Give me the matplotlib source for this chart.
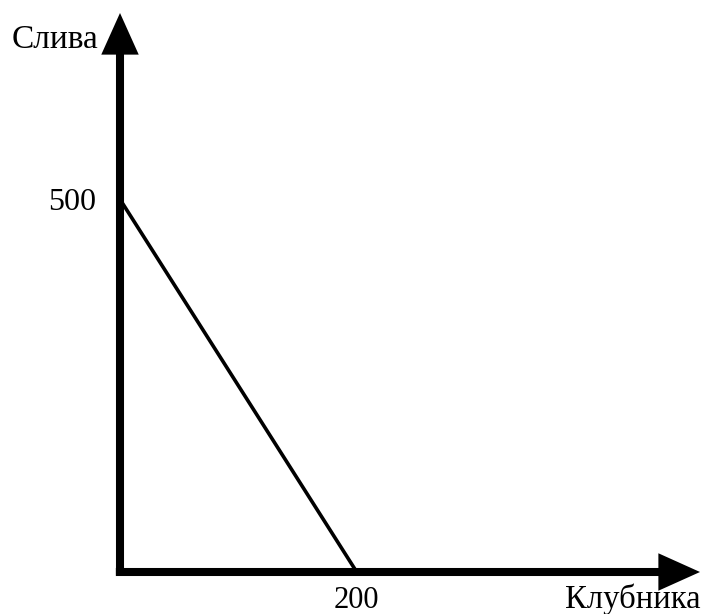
import matplotlib.pyplot as plt

# production possibilities: strawberries (x) vs plums (y)
x_label = "Клубника"
y_label = "Слива"
x_vals = [0, 200]
y_vals = [500, 0]
x_max = 490
y_max = 750

plt.rcParams['font.family'] = ['Liberation Serif', 'DejaVu Serif']

fig = plt.figure(figsize=(7.02, 6.14), dpi=100)
ax = fig.add_axes([120 / 702, 42 / 614, 580 / 702, 559 / 614])
ax.set_xlim(0, x_max)
ax.set_ylim(0, y_max)
ax.axis('off')

# the budget line
ax.plot(x_vals, y_vals, color='black', lw=2.6, solid_capstyle='butt', clip_on=False)

# axes with arrow heads
arrow = dict(arrowstyle='-|>,head_length=1.0,head_width=0.45', lw=5.8, color='black',
             mutation_scale=20, shrinkA=0, shrinkB=0, joinstyle='miter', capstyle='butt')
ax.annotate('', xy=(x_max, 0), xytext=(-3.5, 0), arrowprops=arrow, annotation_clip=False)
ax.annotate('', xy=(0, y_max), xytext=(0, -3.5), arrowprops=arrow, annotation_clip=False)

# labels
ax.annotate(str(y_vals[0]), xy=(0, y_vals[0]), xytext=(-17, -2), textcoords='offset points',
            ha='right', va='center', fontsize=23, annotation_clip=False)
ax.annotate(str(x_vals[1]), xy=(x_vals[1], 0), xytext=(0, -26), textcoords='offset points',
            ha='center', va='baseline', fontsize=22, annotation_clip=False)
ax.text(1.0, -36 / 559, x_label, transform=ax.transAxes, ha='right', va='baseline', fontsize=23.5)
ax.text(-22 / 580, 1 - 35 / 559, y_label, transform=ax.transAxes, ha='right', va='baseline', fontsize=24)

fig.savefig('out.png', dpi=100)
